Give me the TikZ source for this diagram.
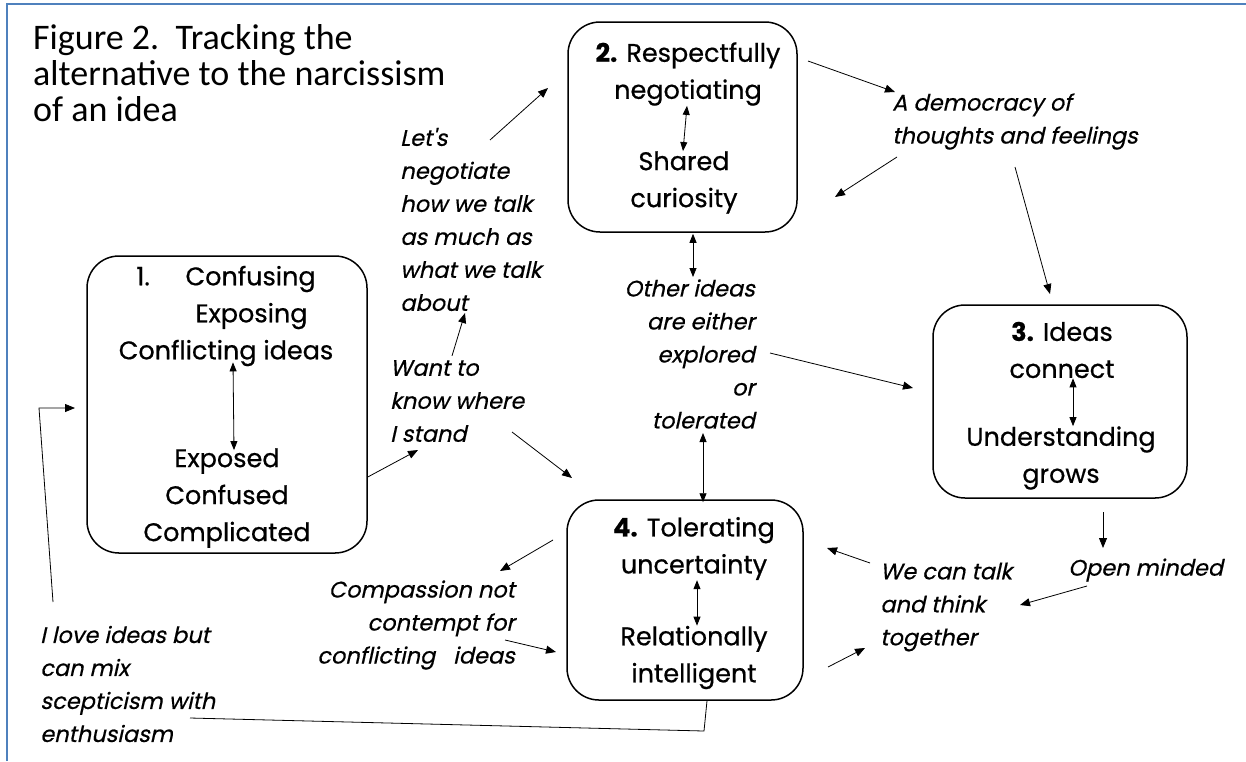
\documentclass[tikz,border=0pt]{standalone}
\usepackage{fontspec}
\setmainfont{Poppins}[FakeBold=0.6]
\newfontfamily\titlefont{Carlito}
\newfontfamily\lblfont{Poppins}[FakeSlant=0.22, FakeBold=0.5]
\usetikzlibrary{arrows.meta}
\definecolor{frameblue}{HTML}{4F81BD}
\begin{document}
\begin{tikzpicture}[x=1pt,y=-1pt,
  box/.style={draw, line width=1.5pt, rounded corners=32pt, inner sep=0pt},
  boxtxt/.style={font=\fontsize{25.5}{37}\selectfont, align=center, inner sep=0pt},
  lbl/.style={font=\lblfont\fontsize{22.5}{33}\selectfont, inner sep=0pt},
  arr/.style={-{Triangle[length=10pt,width=8pt]}, line width=0.8pt},
  darr/.style={{Triangle[length=9pt,width=7pt]}-{Triangle[length=9pt,width=7pt]}, line width=0.8pt},
  plain/.style={line width=0.8pt}
]
\useasboundingbox (0,0) rectangle (1246,761);
\fill[white] (0,0) rectangle (1246,761);
\draw[frameblue, line width=2pt] (7,761) -- (7,4) -- (1246,4);

% title
\node[font=\titlefont\fontsize{36}{36}\selectfont, align=left, anchor=west, inner sep=0pt] (title) at (33,73)
  {Figure 2.\ \ Tracking the\\alternative to the narcissism\\of an idea};

% boxes
\node[box, minimum width=280pt, minimum height=297pt] (b1) at (227,404.5) {};
\node[box, minimum width=229pt, minimum height=210pt] (b2) at (682.5,127) {};
\node[box, minimum width=254pt, minimum height=193pt] (b3) at (1060,401.5) {};
\node[box, minimum width=236pt, minimum height=200pt] (b4) at (685,600) {};

% box texts
\node[boxtxt] (b1a) at (226,316) {1.\hspace{1.4em}Confusing\\\hspace{2em}Exposing\\Conflicting ideas};
\node[boxtxt] (b1b) at (227,498) {Exposed\\Confused\\Complicated};
\node[boxtxt] (b2a) at (688,74) {\textbf{2.} Respectfully\\negotiating};
\node[boxtxt] (b2b) at (684,182.5) {Shared\\curiosity};
\node[boxtxt] (b3a) at (1062,350) {\textbf{3.} Ideas\\connect};
\node[boxtxt] (b3b) at (1061,458) {Understanding\\grows};
\node[boxtxt] (b4a) at (694,548.5) {\textbf{4.} Tolerating\\uncertainty};
\node[boxtxt] (b4b) at (694,657.5) {Relationally\\intelligent};

\draw[darr] ([xshift=7pt,yshift=4pt]b1a.south) -- ([xshift=7pt,yshift=-2pt]b1b.north);
\draw[darr] ([xshift=-1pt]b2a.south) -- ([xshift=-1pt]b2b.north);
\draw[darr] ([xshift=11pt]b3a.south) -- ([xshift=12pt]b3b.north);
\draw[darr] ([xshift=3pt]b4a.south) -- ([xshift=3pt]b4b.north);

% labels
\node[lbl, align=left, anchor=west] (lets) at (400,219.5) {Let's\\negotiate\\how we talk\\as much as\\what we talk\\about};
\node[lbl, align=left, anchor=west] (want) at (390,401) {Want to\\know where\\I stand};
\node[lbl, align=right, anchor=east] (other) at (755,354) {Other ideas\\are either\\explored\\or\\tolerated};
\node[lbl, align=left, anchor=west] (dem) at (892,121.5) {A democracy of\\thoughts and feelings};
\node[lbl, anchor=west] (open) at (1068,570) {Open minded};
\node[lbl, align=left, anchor=west] (we) at (880,607) {We can talk\\and think\\together};
\node[lbl, align=right, anchor=east] (comp) at (515,625) {Compassion not\\contempt for\\conflicting\ \ \ ideas};
\node[lbl, align=left, anchor=west] (love) at (40,684) {I love ideas but\\can mix\\scepticism with\\enthusiasm};

% connectors
\coordinate (wantin) at (418,450);
\draw[arr] (b1.east |- 0,477) -- (wantin);
\draw[arr] (want.north west -| 452,0) ++(0,-4) -- (465,313);
\draw[arr] (490,140) -- (548,88);
\draw[arr] (512,432) -- (572,478);
\draw[darr] (b2.south -| 693,0) ++(0,1) -- (693,277);
\draw[darr] (703,433) -- ([yshift=-3pt]b4.north -| 703,0);
\draw[arr] (770,353) -- (913,388);
\draw[arr] (808,61) -- (895,92);
\draw[arr] (897,157) -- (835,197);
\draw[arr] (1015,167) -- (1050,294);
\draw[arr] (1103,512) -- (1103,548);
\draw[arr] (1087,586) -- (1020,605);
\draw[arr] (870,563) -- (827,548);
\draw[arr] (828,667) -- (865,648);
\draw[arr] (553,540) -- (500,571);
\draw[arr] (505,640) -- (556,652);
\draw[plain] (b4.south -| 707,0) -- (704,731) -- (190,718);
\draw[arr] (53,602) -- (39,408) -- (75,408);
\end{tikzpicture}
\end{document}
